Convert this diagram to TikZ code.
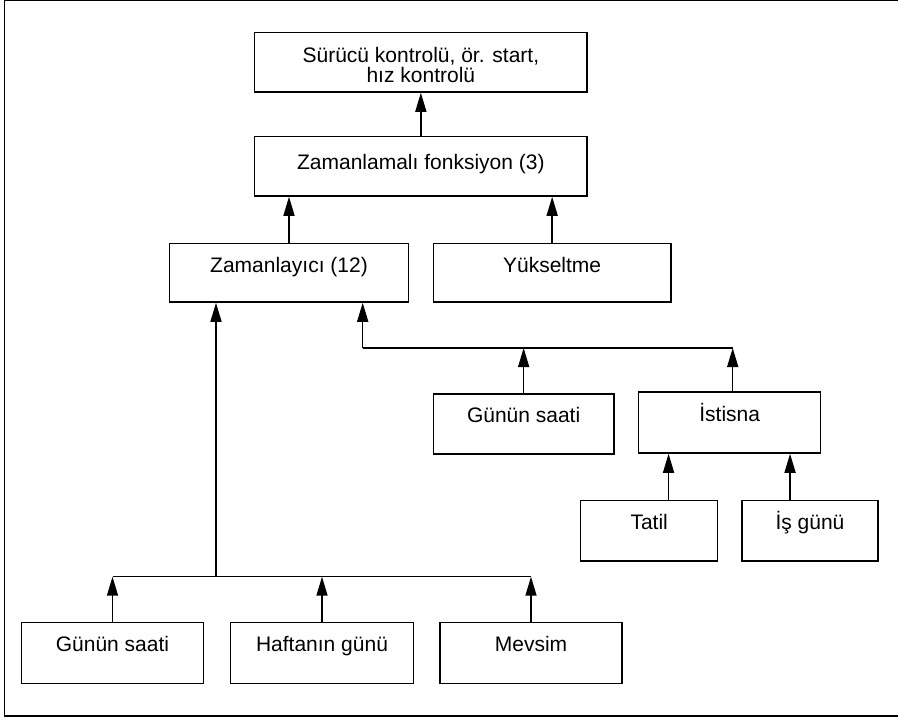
\documentclass[tikz,border=0pt]{standalone}
\usepackage{fontspec}
\setmainfont{Liberation Sans}
\usetikzlibrary{arrows.meta,calc}
\begin{document}
\begin{tikzpicture}[x=1pt,y=-1pt,
  box/.style={draw, line width=1.5pt, inner sep=0pt},
  lbl/.style={anchor=base, inner sep=0pt, font=\fontsize{21}{24}\selectfont},
  conn/.style={line width=1.5pt},
  arr/.style={conn, -{Triangle[length=19pt,width=11pt]}}]
\useasboundingbox (0,0) rectangle (898,718);
% open frame around the chart
\draw[line width=1.2pt] (898,0.7) -- (4.5,0.7) -- (4.5,716) -- (898,716);

% boxes
\node[box, minimum width=332.3pt, minimum height=59.3pt] (top) at (420.85,62.35) {};
\node[box, minimum width=332.3pt, minimum height=59.3pt] (zf)  at (420.85,166.35) {};
\node[box, minimum width=239.4pt, minimum height=58.7pt] (zl)  at (289,272.65) {};
\node[box, minimum width=237.7pt, minimum height=58.7pt] (yk)  at (552.15,272.65) {};
\node[box, minimum width=180.7pt, minimum height=60pt]   (gs2) at (523.65,424) {};
\node[box, minimum width=182pt,   minimum height=61pt]   (ist) at (729.7,422.5) {};
\node[box, minimum width=137pt,   minimum height=60.3pt] (tat) at (649.2,530.85) {};
\node[box, minimum width=136pt,   minimum height=60.3pt] (isg) at (810,530.85) {};
\node[box, minimum width=181.6pt, minimum height=60.6pt] (gs1) at (112.5,653) {};
\node[box, minimum width=182.6pt, minimum height=60.6pt] (hg)  at (322,653) {};
\node[box, minimum width=182pt,   minimum height=60.6pt] (mv)  at (531,653) {};

% texts
\node[lbl] (top-t1) at ($(top.north)+(0,30.6)$) {Sürücü kontrolü, ör. start,};
\node[lbl] (top-t2) at ($(top.north)+(0,50.6)$) {hız kontrolü};
\node[lbl] (zf-t)  at ($(zf.north)+(0,33.3)$)  {Zamanlamalı fonksiyon (3)};
\node[lbl] (zl-t)  at ($(zl.north)+(0,30)$)    {Zamanlayıcı (12)};
\node[lbl] (yk-t)  at ($(yk.north)+(0,30)$)    {Yükseltme};
\node[lbl] (gs2-t) at ($(gs2.north)+(0,29.3)$) {Günün saati};
\node[lbl] (ist-t) at ($(ist.north)+(0,30.7)$) {İstisna};
\node[lbl] (tat-t) at ($(tat.north)+(0,30)$)   {Tatil};
\node[lbl] (isg-t) at ($(isg.north)+(0,30)$)   {İş günü};
\node[lbl] (gs1-t) at ($(gs1.north)+(0,30)$)   {Günün saati};
\node[lbl] (hg-t)  at ($(hg.north)+(0,30)$)    {Haftanın günü};
\node[lbl] (mv-t)  at ($(mv.north)+(0,30)$)    {Mevsim};

% junction points
\coordinate (busR) at (362.7,348);
\coordinate (busL) at (216,576.7);
\coordinate (istUp) at ($(ist.north)+(3,0)$);
\coordinate (istInL) at ($(ist.south west)+(30.6,0)$);
\coordinate (istInR) at ($(ist.south east)+(-31.4,0)$);

% upper connectors
\draw[arr] (zf.north) -- (top.south);
\draw[arr] (zl.north) -- (zl.north |- zf.south);
\draw[arr] (yk.north) -- (yk.north |- zf.south);

% right-hand branch
\draw[arr] (busR) -- (busR |- zl.south);
\draw[conn] (busR) -- (busR -| istUp);
\draw[arr] (gs2.north) -- (gs2.north |- busR);
\draw[arr] (istUp) -- (istUp |- busR);
\draw[arr] (istInL |- tat.north) -- (istInL);
\draw[arr] (istInR |- isg.north) -- (istInR);

% lower branch
\draw[arr] (busL) -- (busL |- zl.south);
\draw[conn] (gs1.north |- busL) -- (mv.north |- busL);
\draw[arr] (gs1.north) -- (gs1.north |- busL);
\draw[arr] (hg.north) -- (hg.north |- busL);
\draw[arr] (mv.north) -- (mv.north |- busL);
\end{tikzpicture}
\end{document}
